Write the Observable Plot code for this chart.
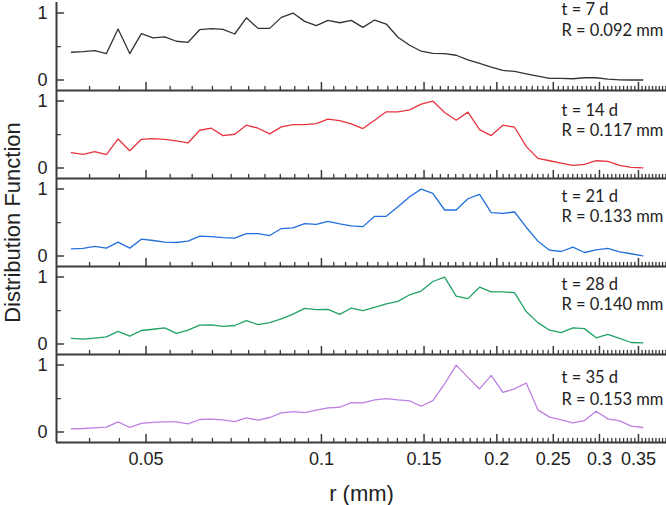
<!DOCTYPE html>
<html>
<head>
<meta charset="utf-8">
<script src="https://cdn.jsdelivr.net/npm/d3@7"></script>
<script src="https://cdn.jsdelivr.net/npm/@observablehq/plot@0.6"></script>
<style>
  html, body { margin: 0; padding: 0; background: #fff; }
  #chart { width: 666px; height: 505px; }
</style>
</head>
<body>
<div id="chart"></div>
<script>
// ---------------- data ----------------
const panels = ["7 d", "14 d", "21 d", "28 d", "35 d"];
const tLabels = ["t = 7 d", "t = 14 d", "t = 21 d", "t = 28 d", "t = 35 d"];
const rLabels = ["R = 0.092 mm", "R = 0.117 mm", "R = 0.133 mm", "R = 0.140 mm", "R = 0.153 mm"];

// bin radii (mm)
const r = [0.03723, 0.03899, 0.04083, 0.04275, 0.04477, 0.04688, 0.04909, 0.05141, 0.05383, 0.05637,
           0.05903, 0.06181, 0.06473, 0.06778, 0.07098, 0.07433, 0.07783, 0.08150, 0.08535, 0.08937,
           0.09358, 0.09800, 0.1026, 0.1075, 0.1125, 0.1178, 0.1234, 0.1292, 0.1353, 0.1417,
           0.1483, 0.1553, 0.1627, 0.1703, 0.1784, 0.1868, 0.1956, 0.2048, 0.2145, 0.2246,
           0.2352, 0.2463, 0.2579, 0.2701, 0.2828, 0.2961, 0.3101, 0.3248, 0.3401, 0.3561];

const s7 = [0.416, 0.426, 0.440, 0.396, 0.762, 0.396, 0.693, 0.629, 0.644, 0.580,
            0.564, 0.752, 0.767, 0.757, 0.688, 0.930, 0.772, 0.772, 0.936, 1.000,
            0.876, 0.812, 0.891, 0.856, 0.891, 0.787, 0.896, 0.837, 0.639, 0.520,
            0.431, 0.400, 0.396, 0.371, 0.302, 0.248, 0.193, 0.144, 0.129, 0.094,
            0.059, 0.025, 0.025, 0.020, 0.035, 0.035, 0.015, 0.003, 0.002, 0.002];

const s14 = [0.230, 0.205, 0.245, 0.200, 0.435, 0.260, 0.430, 0.440, 0.430, 0.405,
             0.375, 0.565, 0.595, 0.485, 0.505, 0.640, 0.595, 0.510, 0.615, 0.650,
             0.650, 0.665, 0.730, 0.710, 0.660, 0.590, 0.715, 0.840, 0.840, 0.870,
             0.955, 1.000, 0.830, 0.715, 0.835, 0.575, 0.485, 0.640, 0.610, 0.325,
             0.145, 0.110, 0.075, 0.040, 0.055, 0.110, 0.100, 0.040, 0.010, 0.003];

const s21 = [0.109, 0.114, 0.144, 0.119, 0.208, 0.119, 0.252, 0.233, 0.208, 0.203,
             0.223, 0.297, 0.292, 0.277, 0.267, 0.337, 0.337, 0.307, 0.411, 0.421,
             0.485, 0.475, 0.520, 0.480, 0.450, 0.440, 0.594, 0.594, 0.738, 0.886,
             1.000, 0.936, 0.688, 0.688, 0.856, 0.921, 0.649, 0.639, 0.658, 0.431,
             0.223, 0.089, 0.069, 0.134, 0.054, 0.094, 0.114, 0.064, 0.035, 0.003];

const s28 = [0.085, 0.075, 0.090, 0.108, 0.189, 0.118, 0.203, 0.222, 0.241, 0.160,
             0.208, 0.283, 0.288, 0.264, 0.278, 0.349, 0.292, 0.321, 0.377, 0.448,
             0.533, 0.514, 0.519, 0.443, 0.538, 0.500, 0.547, 0.599, 0.637, 0.736,
             0.792, 0.934, 1.000, 0.717, 0.679, 0.849, 0.778, 0.778, 0.769, 0.486,
             0.321, 0.208, 0.170, 0.241, 0.231, 0.094, 0.146, 0.085, 0.024, 0.019];

const s35 = [0.050, 0.054, 0.064, 0.074, 0.153, 0.069, 0.129, 0.144, 0.153, 0.153,
             0.124, 0.188, 0.193, 0.183, 0.158, 0.213, 0.178, 0.218, 0.287, 0.307,
             0.292, 0.327, 0.361, 0.371, 0.440, 0.436, 0.480, 0.500, 0.480, 0.465,
             0.386, 0.470, 0.718, 1.000, 0.817, 0.644, 0.847, 0.594, 0.644, 0.733,
             0.332, 0.223, 0.183, 0.139, 0.173, 0.312, 0.198, 0.168, 0.089, 0.069];

const series = [s7, s14, s21, s28, s35];

// axis tick values
const xMajorTicks = [0.05, 0.1, 0.15, 0.2, 0.25, 0.3, 0.35];
const yMajorTicks = [0, 1];
const yMinorTicks = [0.5];

// ---------------- layout / style ----------------
const colors = ["#333333", "#e8343e", "#2370db", "#22a266", "#bd80e2"];
const xDomain = [0.0351, 0.391];
const yDomain = [-0.155, 1.158];
const tY = [1.053, 0.859, 0.884, 0.883, 0.805];
const rY = [0.744, 0.557, 0.582, 0.581, 0.483];
const axisColor = "#3a3a3a";

const xMinorTicks = d3.range(40, 391, 5).map(d => d / 1000)
  .filter(d => !xMajorTicks.some(m => Math.abs(m - d) < 1e-9));

const table = panels.flatMap((p, k) => r.map((rv, i) => ({panel: p, r: rv, v: series[k][i]})));
const notes = panels.flatMap((p, k) => [
  {panel: p, text: tLabels[k], y: tY[k]},
  {panel: p, text: rLabels[k], y: rY[k]}
]);

const spike = {draw(context, l) { context.moveTo(0, 0); context.lineTo(0, -l); }};

const chart = Plot.plot({
  width: 666,
  height: 505,
  marginLeft: 56,
  marginRight: 0,
  marginTop: 1,
  marginBottom: 62,
  style: {fontFamily: "'Liberation Sans', Arial, sans-serif", fontSize: "18px", color: "#222", background: "#fff"},
  x: {type: "log", domain: xDomain},
  y: {domain: yDomain},
  fy: {domain: panels, padding: 0, axis: null, label: null},
  color: {domain: panels, range: colors},
  marks: [
    // axis lines
    Plot.ruleX([xDomain[0]], {stroke: axisColor, strokeWidth: 2}),
    Plot.ruleY([yDomain[0]], {stroke: axisColor, strokeWidth: 2}),
    // inward ticks
    Plot.vector(xMajorTicks, {x: d => d, y: yDomain[0], length: 8, rotate: 0, anchor: "start", shape: spike, stroke: axisColor, strokeWidth: 1.5}),
    Plot.vector(xMinorTicks, {x: d => d, y: yDomain[0], length: 4, rotate: 0, anchor: "start", shape: spike, stroke: axisColor, strokeWidth: 1.3}),
    Plot.vector(yMajorTicks, {x: xDomain[0], y: d => d, length: 7, rotate: 90, anchor: "start", shape: spike, stroke: axisColor, strokeWidth: 1.5}),
    Plot.vector(yMinorTicks, {x: xDomain[0], y: d => d, length: 4, rotate: 90, anchor: "start", shape: spike, stroke: axisColor, strokeWidth: 1.3}),
    // tick labels
    Plot.axisY({ticks: yMajorTicks, tickSize: 0, tickPadding: 9, fontSize: 18, label: null, tickFormat: d => String(d)}),
    Plot.axisX({ticks: xMajorTicks, tickSize: 0, tickPadding: 10, fontSize: 18, label: null, tickFormat: d => String(d)}),
    // data
    Plot.lineY(table, {x: "r", y: "v", fy: "panel", stroke: "panel", strokeWidth: 1.3}),
    // annotations
    Plot.text(notes, {fy: "panel", y: "y", text: "text", frameAnchor: "right", textAnchor: "start", lineAnchor: "middle",
                      dx: -105, fontFamily: "Lato, 'Open Sans', sans-serif", fontSize: 16.5, fill: "#222"}),
    // axis titles
    Plot.text(["Distribution Function"], {frameAnchor: "left", rotate: -90, textAnchor: "middle", lineAnchor: "bottom",
                      dx: -37, dy: 0, fontSize: 22, fill: "#222", facet: "super"}),
    Plot.text(["r (mm)"], {frameAnchor: "bottom", textAnchor: "middle", lineAnchor: "middle",
                      dy: 51, fontSize: 22, fill: "#222", facet: "super"})
  ]
});

document.getElementById("chart").appendChild(chart);
</script>
</body>
</html>
